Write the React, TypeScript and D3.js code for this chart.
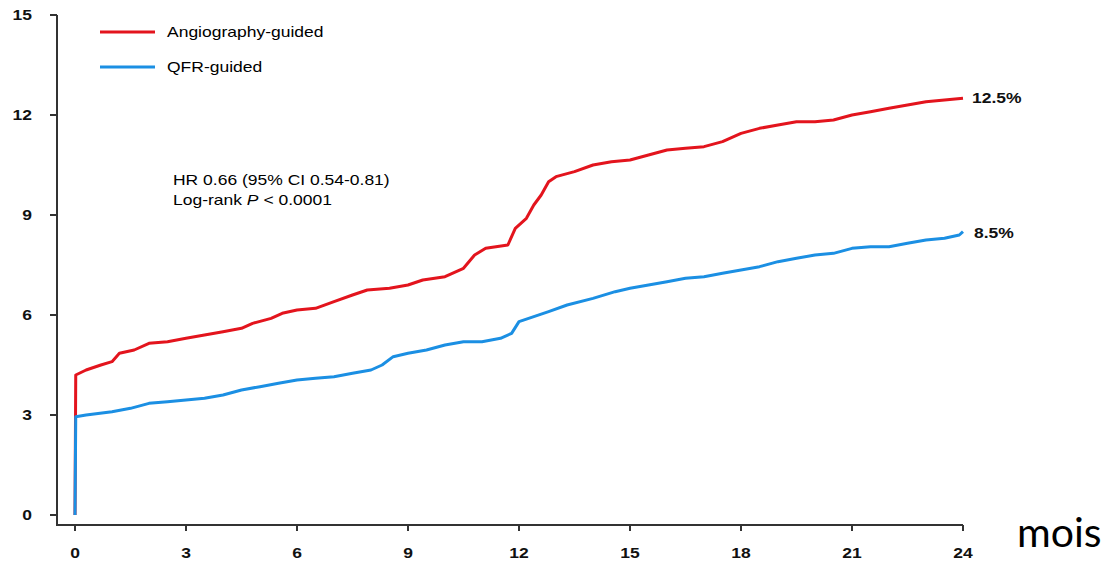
import React from "react";
import * as d3 from "d3";

// cumulative incidence (%), months 0-24
const angioMonths = [0, 0.02, 0.3, 0.7, 1.0, 1.2, 1.6, 2.0, 2.5, 3.0, 3.5, 4.0, 4.5, 4.8, 5.3, 5.6, 6.0, 6.5, 7.0, 7.5, 7.9, 8.5, 9.0, 9.4, 10.0, 10.5, 10.8, 11.1, 11.7, 11.9, 12.2, 12.4, 12.6, 12.8, 13.0, 13.5, 14.0, 14.5, 15.0, 15.5, 16.0, 16.5, 17.0, 17.5, 18.0, 18.5, 19.0, 19.5, 20.0, 20.5, 21.0, 21.5, 22.0, 22.5, 23.0, 23.5, 24.0];
const angioRisk = [0, 4.2, 4.35, 4.5, 4.6, 4.85, 4.95, 5.15, 5.2, 5.3, 5.4, 5.5, 5.6, 5.75, 5.9, 6.05, 6.15, 6.2, 6.4, 6.6, 6.75, 6.8, 6.9, 7.05, 7.15, 7.4, 7.8, 8.0, 8.1, 8.6, 8.9, 9.3, 9.6, 10.0, 10.15, 10.3, 10.5, 10.6, 10.65, 10.8, 10.95, 11.0, 11.05, 11.2, 11.45, 11.6, 11.7, 11.8, 11.8, 11.85, 12.0, 12.1, 12.2, 12.3, 12.4, 12.45, 12.5];

const qfrMonths = [0, 0.02, 0.3, 1.0, 1.5, 2.0, 2.5, 3.0, 3.5, 4.0, 4.5, 5.0, 5.5, 6.0, 6.5, 7.0, 7.5, 8.0, 8.3, 8.6, 9.0, 9.5, 10.0, 10.5, 11.0, 11.5, 11.8, 12.0, 12.4, 12.8, 13.3, 14.0, 14.6, 15.0, 15.5, 16.0, 16.5, 17.0, 17.5, 18.0, 18.5, 19.0, 19.5, 20.0, 20.5, 21.0, 21.5, 22.0, 22.5, 23.0, 23.5, 23.9, 24.0];
const qfrRisk = [0, 2.95, 3.0, 3.1, 3.2, 3.35, 3.4, 3.45, 3.5, 3.6, 3.75, 3.85, 3.95, 4.05, 4.1, 4.15, 4.25, 4.35, 4.5, 4.75, 4.85, 4.95, 5.1, 5.2, 5.2, 5.3, 5.45, 5.8, 5.95, 6.1, 6.3, 6.5, 6.7, 6.8, 6.9, 7.0, 7.1, 7.15, 7.25, 7.35, 7.45, 7.6, 7.7, 7.8, 7.85, 8.0, 8.05, 8.05, 8.15, 8.25, 8.3, 8.4, 8.5];

const xTicks = [0, 3, 6, 9, 12, 15, 18, 21, 24];
const yTicks = [0, 3, 6, 9, 12, 15];
const seriesNames = ["Angiography-guided", "QFR-guided"];
const endLabels = ["12.5%", "8.5%"];
const colors = ["#e3141d", "#1b8fe3"];

const font = "'Liberation Sans', Arial, sans-serif";
const sx = 1.25; // the source picture is stretched horizontally

export default function App() {
  const x = d3.scaleLinear().domain([0, 24]).range([75, 963]);
  const y = d3.scaleLinear().domain([0, 15]).range([515, 15]);
  const axisX = 57;
  const axisY = 525;

  const line = d3
    .line<[number, number]>()
    .x((d) => x(d[0]))
    .y((d) => y(d[1]));

  const angio = angioMonths.map((m, i) => [m, angioRisk[i]] as [number, number]);
  const qfr = qfrMonths.map((m, i) => [m, qfrRisk[i]] as [number, number]);

  const stretched = (tx: number, ty: number) => `translate(${tx},${ty}) scale(${sx},1)`;

  return (
    <svg
      width={1111}
      height={565}
      style={{ display: "block", position: "fixed", left: 0, top: 0, background: "#fff" }}
    >
      {/* axes frame */}
      <path d={`M${axisX},${y(15)}V${axisY}H${x(24)}`} fill="none" stroke="#333" strokeWidth={2} />
      {yTicks.map((t) => (
        <g key={"y" + t}>
          <line x1={axisX - 7} x2={axisX} y1={y(t)} y2={y(t)} stroke="#333" strokeWidth={2} />
          <text
            transform={stretched(32, y(t) + 5)}
            textAnchor="end"
            fontFamily={font}
            fontWeight="bold"
            fontSize={14}
            fill="#111"
          >
            {t}
          </text>
        </g>
      ))}
      {xTicks.map((t) => (
        <g key={"x" + t}>
          <line x1={x(t)} x2={x(t)} y1={axisY} y2={axisY + 6} stroke="#333" strokeWidth={2} />
          <text
            transform={stretched(x(t), 558)}
            textAnchor="middle"
            fontFamily={font}
            fontWeight="bold"
            fontSize={14}
            fill="#111"
          >
            {t}
          </text>
        </g>
      ))}

      {/* curves */}
      <path d={line(angio) || ""} fill="none" stroke={colors[0]} strokeWidth={3} strokeLinejoin="round" />
      <path d={line(qfr) || ""} fill="none" stroke={colors[1]} strokeWidth={3} strokeLinejoin="round" />

      {/* legend */}
      {seriesNames.map((name, i) => (
        <g key={name}>
          <line x1={100} x2={155} y1={32 + i * 35} y2={32 + i * 35} stroke={colors[i]} strokeWidth={3} />
          <text transform={stretched(167, 37 + i * 35)} fontFamily={font} fontSize={14} fill="#000">
            {name}
          </text>
        </g>
      ))}

      {/* statistics */}
      <text transform={stretched(173, 185)} fontFamily={font} fontSize={14} fill="#000">
        HR 0.66 (95% CI 0.54-0.81)
      </text>
      <text transform={stretched(173, 205)} fontFamily={font} fontSize={14} fill="#000">
        Log-rank <tspan fontStyle="italic">P</tspan> {"<"} 0.0001
      </text>

      {/* end values */}
      <text
        transform={stretched(972, y(angioRisk[angioRisk.length - 1]) + 5)}
        fontFamily={font}
        fontWeight="bold"
        fontSize={14}
        fill="#111"
      >
        {endLabels[0]}
      </text>
      <text
        transform={stretched(974, y(qfrRisk[qfrRisk.length - 1]) + 6)}
        fontFamily={font}
        fontWeight="bold"
        fontSize={14}
        fill="#111"
      >
        {endLabels[1]}
      </text>

      <text x={1017} y={547} fontFamily="Lato, 'Noto Sans', sans-serif" fontSize={41} fill="#000">
        mois
      </text>
    </svg>
  );
}
